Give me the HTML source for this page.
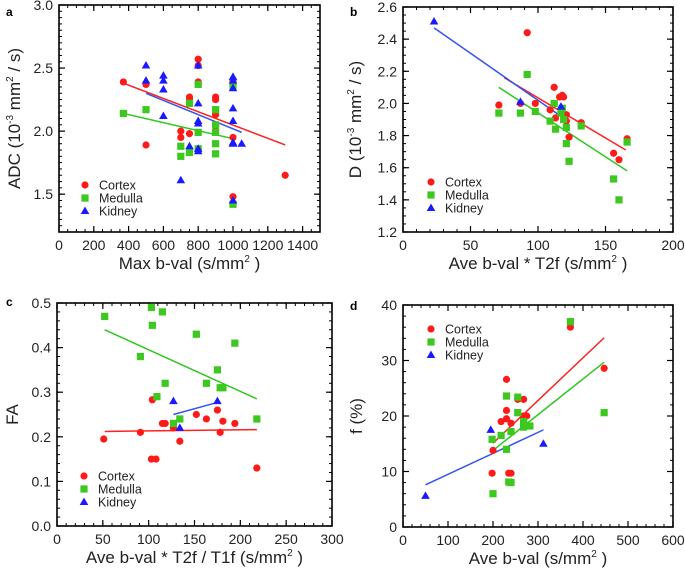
<!DOCTYPE html>
<html><head><meta charset="utf-8"><style>
body{margin:0;background:#fff;}
svg{display:block;font-family:"Liberation Sans",Arial,sans-serif;}
</style></head><body>
<svg id="fig" width="685" height="571" viewBox="0 0 685 571"></svg>
<script>
// Panel a data
const aCortex=[[370,2.39],[500,2.37],[500,1.89],[700,2.0],[700,1.95],[750,2.27],[750,2.25],[750,1.98],[800,2.57],[800,2.52],[800,2.39],[800,2.38],[900,2.27],[900,2.25],[900,2.13],[900,2.04],[900,2.0],[1000,2.4],[1000,1.95],[1000,1.48],[1300,1.65]];
const aMedulla=[[370,2.14],[500,2.17],[700,1.88],[700,1.8],[750,2.22],[750,1.83],[800,2.37],[800,1.99],[800,1.86],[900,2.17],[900,2.05],[900,1.99],[900,1.9],[900,1.82],[1000,2.36],[1000,1.42]];
const aKidney=[[500,2.52],[500,2.4],[600,2.44],[600,2.4],[600,2.33],[600,2.12],[700,1.61],[750,1.88],[800,2.52],[800,2.22],[800,2.08],[800,2.06],[800,1.86],[800,1.84],[1000,2.43],[1000,2.4],[1000,2.34],[1000,2.18],[1000,2.08],[1000,1.91],[1000,1.9],[1000,1.45],[1050,1.9]];
const aFits=[[370,2.38,1300,1.89],[370,2.14,1000,1.94],[500,2.3,1050,1.99]];
// Panel b data
const bCortex=[[71,1.99],[87,2.0],[92,2.44],[98,2.0],[109,1.96],[112,2.1],[113,1.91],[116,2.04],[118,2.05],[119,2.04],[121,1.93],[121,1.89],[123,1.79],[132,1.88],[156,1.69],[160,1.65],[166,1.78]];
const bMedulla=[[71,1.94],[87,1.94],[92,2.18],[98,1.95],[109,1.89],[112,2.0],[113,1.84],[117,1.94],[118,1.97],[119,1.9],[121,1.85],[121,1.75],[123,1.64],[132,1.86],[156,1.53],[160,1.40],[166,1.76]];
const bKidney=[[23,2.51],[87,2.01],[117,1.98]];
const bFits=[[75,2.16,165,1.71],[71,2.10,166,1.58],[23,2.47,117,1.92]];
// Panel c data
const cCortex=[[51,0.195],[91,0.21],[103,0.15],[104,0.283],[108,0.15],[115,0.23],[118,0.23],[127,0.22],[134,0.19],[152,0.25],[163,0.24],[175,0.26],[178,0.21],[181,0.235],[194,0.23],[218,0.13]];
const cMedulla=[[52,0.47],[91,0.38],[103,0.49],[104,0.45],[109,0.29],[115,0.48],[118,0.32],[127,0.23],[134,0.24],[152,0.43],[163,0.32],[175,0.35],[178,0.31],[181,0.31],[194,0.41],[218,0.24]];
const cKidney=[[127,0.28],[134,0.22],[175,0.28]];
const cFits=[[52,0.212,218,0.216],[52,0.44,218,0.285],[127,0.25,175,0.277]];
// Panel d data
const dCortex=[[198,9.7],[200,13.8],[218,19],[230,26.6],[230,21],[230,19.5],[235,9.7],[240,9.7],[240,18.7],[255,23],[268,23],[268,20],[275,20],[372,36],[447,28.6]];
const dMedulla=[[198,15.8],[200,6],[218,16.5],[230,23.6],[230,14],[235,8.1],[240,8],[240,17.2],[255,23.4],[255,20.6],[268,19],[268,18],[282,18.2],[372,37],[447,20.6]];
const dKidney=[[50,5.6],[195,17.5],[312,15]];
const dFits=[[200,15.1,447,34.1],[200,13.8,447,29.7],[50,7.6,312,17.5]];
const aXTicks=[0,200,400,600,800,1000,1200,1400];
const aYTicks=[1.5,2.0,2.5,3.0];
const bXTicks=[0,50,100,150,200];
const bYTicks=[1.2,1.4,1.6,1.8,2.0,2.2,2.4,2.6];
const cXTicks=[0,50,100,150,200,250,300];
const cYTicks=[0.0,0.1,0.2,0.3,0.4,0.5];
const dXTicks=[0,100,200,300,400,500,600];
const dYTicks=[0,10,20,30,40];

const NS="http://www.w3.org/2000/svg";
const svg=document.getElementById('fig');
const RED="#ff1a1a",GREEN="#3cc81e",BLUE="#1a1aff";
const LRED="#ff2020",LGREEN="#2ec81e",LBLUE="#3355ee";
function mk(tag,attrs,parent){const e=document.createElementNS(NS,tag);for(const k in attrs)e.setAttribute(k,attrs[k]);(parent||svg).appendChild(e);return e;}

function panel(o){
  const g=mk('g',{});
  
  
  const sx=v=>o.L+(v-o.x0)/(o.x1-o.x0)*(o.R-o.L);
  const sy=v=>o.B-(v-o.y0)/(o.y1-o.y0)*(o.B-o.T);
  for(let v=o.x0;v<=o.x1+1e-9;v+=o.xm){const x=sx(v);
    mk('line',{x1:x,y1:o.B,x2:x,y2:o.B-3,stroke:'#000','stroke-width':1},g);
    mk('line',{x1:x,y1:o.T,x2:x,y2:o.T+3,stroke:'#000','stroke-width':1},g);}
  for(let v=o.y0;v<=o.y1+1e-9;v+=o.ym){const y=sy(v);
    mk('line',{x1:o.L,y1:y,x2:o.L+3,y2:y,stroke:'#000','stroke-width':1},g);
    mk('line',{x1:o.R,y1:y,x2:o.R-3,y2:y,stroke:'#000','stroke-width':1},g);}
  o.xt.forEach(v=>{const x=sx(v);
    mk('line',{x1:x,y1:o.B,x2:x,y2:o.B-6,stroke:'#000','stroke-width':1.2},g);
    mk('line',{x1:x,y1:o.T,x2:x,y2:o.T+6,stroke:'#000','stroke-width':1.2},g);
    const t=mk('text',{x:x,y:o.B+18,'text-anchor':'middle','font-size':14,fill:'#222'},g);
    
    
    t.textContent=v;});
  o.yt.forEach(v=>{const y=sy(v);
    mk('line',{x1:o.L,y1:y,x2:o.L+6,y2:y,stroke:'#000','stroke-width':1.2},g);
    mk('line',{x1:o.R,y1:y,x2:o.R-6,y2:y,stroke:'#000','stroke-width':1.2},g);
    const t=mk('text',{x:o.L-6,y:y+5,'text-anchor':'end','font-size':14,fill:'#222'},g);
    
    
    t.textContent=v.toFixed(o.yd);});
  const fr=mk('rect',{x:o.L,y:o.T,width:o.R-o.L,height:o.B-o.T,fill:'none',stroke:'#000','stroke-width':1.6},g);
  
  
  const lc=[LRED,LGREEN,LBLUE];const ln=['cortex-fit-line','medulla-fit-line','kidney-fit-line'];
  o.fits.forEach((f,i)=>{const l=mk('line',{x1:sx(f[0]),y1:sy(f[1]),x2:sx(f[2]),y2:sy(f[3]),stroke:lc[i],'stroke-width':1.5},g);
    
    });
  function marker(kind,x,y,name){let e;
    if(kind==0)e=mk('circle',{cx:x,cy:y,r:3.6,fill:RED},g);
    else if(kind==1)e=mk('rect',{x:x-3.6,y:y-3.6,width:7.2,height:7.2,fill:GREEN},g);
    else e=mk('polygon',{points:`${x},${y-4.5} ${x+4.3},${y+3} ${x-4.3},${y+3}`,fill:BLUE},g);
    
    }
  o.cortex.forEach(p=>marker(0,sx(p[0]),sy(p[1]),'cortex-point'));
  o.medulla.forEach(p=>marker(1,sx(p[0]),sy(p[1]),'medulla-point'));
  o.kidney.forEach(p=>marker(2,sx(p[0]),sy(p[1]),'kidney-point'));
  const names=['Cortex','Medulla','Kidney'];
  names.forEach((n,i)=>{const y=o.lg[1]+i*13;
    marker(i,o.lg[0],y,'legend-marker-'+n.toLowerCase());
    const t=mk('text',{x:o.lg[0]+14,y:y+4.5,'font-size':12.5,fill:'#222'},g);
    
    
    t.textContent=n;});
  const pl=mk('text',{x:o.letter[0],y:o.letter[1],'font-size':12,'font-weight':'bold'},g);
  
  
  pl.textContent=o.id;
  const xt=mk('text',{x:(o.L+o.R)/2,y:o.B+37,'text-anchor':'middle','font-size':17,fill:'#222'},g);
  
  
  xt.innerHTML=o.xtitle;
  const yt=mk('text',{x:0,y:0,'text-anchor':'middle','font-size':17,fill:'#222',transform:`translate(${o.ytx},${(o.T+o.B)/2}) rotate(-90)`},g);
  
  
  yt.innerHTML=o.ytitle;
}
const sup=s=>`<tspan dy="-7" font-size="10">${s}</tspan><tspan dy="7"> </tspan>`;
panel({id:'a',L:59,R:320,T:5,B:232,x0:0,x1:1500,y0:1.2,y1:3.0,xm:50,ym:0.05,xt:aXTicks,yt:aYTicks,yd:1,
  cortex:aCortex,medulla:aMedulla,kidney:aKidney,fits:aFits,lg:[85,185],letter:[6,16],
  xtitle:'Max b-val (s/mm'+sup('2')+')',ytitle:'ADC (10'+sup('-3')+'mm'+sup('2')+'/ s)',ytx:20});
panel({id:'b',L:403,R:673,T:7,B:232,x0:0,x1:200,y0:1.2,y1:2.6,xm:10,ym:0.05,xt:bXTicks,yt:bYTicks,yd:1,
  cortex:bCortex,medulla:bMedulla,kidney:bKidney,fits:bFits,lg:[431,182],letter:[350,16],
  xtitle:'Ave b-val * T2f (s/mm'+sup('2')+')',ytitle:'D (10'+sup('-3')+'mm'+sup('2')+'/ s)',ytx:361});
panel({id:'c',L:57,R:332,T:303,B:526,x0:0,x1:300,y0:0,y1:0.5,xm:10,ym:0.02,xt:cXTicks,yt:cYTicks,yd:1,
  cortex:cCortex,medulla:cMedulla,kidney:cKidney,fits:cFits,lg:[84,476],letter:[6,306],
  xtitle:'Ave b-val * T2f / T1f (s/mm'+sup('2')+')',ytitle:'FA',ytx:18});
panel({id:'d',L:403,R:673,T:305,B:527,x0:0,x1:600,y0:0,y1:40,xm:20,ym:2,xt:dXTicks,yt:dYTicks,yd:0,
  cortex:dCortex,medulla:dMedulla,kidney:dKidney,fits:dFits,lg:[431,329],letter:[350,310],
  xtitle:'Ave b-val (s/mm'+sup('2')+')',ytitle:'f (%)',ytx:362});
</script>
</body></html>
